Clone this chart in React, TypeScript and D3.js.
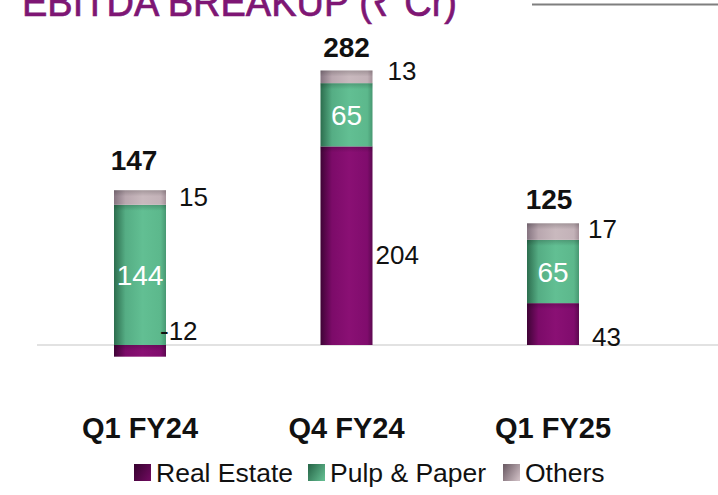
import React from "react";
import * as d3 from "d3";

// ---------- data ----------
const categories = ["Q1 FY24", "Q4 FY24", "Q1 FY25"];
const realEstate = [-12, 204, 43];
const pulpPaper = [144, 65, 65];
const others = [15, 13, 17];
const totals = [147, 282, 125];
const seriesNames = ["Real Estate", "Pulp & Paper", "Others"];
const titleText = "EBITDA BREAKUP (₹ Cr)";

// ---------- style / layout ----------
const W = 718;
const H = 495;
const FONT = "'Liberation Sans', Arial, Helvetica, sans-serif";
const BAR_W = 52;
const gradients: Record<string, [string, string][]> = {
  "Real Estate": [["0%", "#3f0436"], ["22%", "#7c0b69"], ["55%", "#8a1074"], ["90%", "#800c6d"], ["100%", "#5c0850"]],
  "Pulp & Paper": [["0%", "#2c6d4e"], ["22%", "#55ad84"], ["55%", "#62bf93"], ["90%", "#5cb88c"], ["100%", "#479872"]],
  Others: [["0%", "#857480"], ["22%", "#b9a7af"], ["55%", "#c9b9be"], ["90%", "#c3b2b8"], ["100%", "#a49199"]],
};
const legendGrad: Record<string, [string, string]> = {
  "Real Estate": ["#3a0332", "#6e0a5e"],
  "Pulp & Paper": ["#2a6a4c", "#62bb8f"],
  Others: ["#6f5f68", "#cdbcc2"],
};
// manual nudges for outside labels [dx, dy]
const outsideNudge: Record<string, [number, number][]> = {
  "Real Estate": [[-16, -20], [-7, 9.5], [3, 13]],
  Others: [[3, -1], [5, -6], [-1, -3]],
};
const totalNudge: [number, number][] = [[-6, -6], [0, 0], [-4, 0]];
const legendX = [134, 308, 503];

const gid = (s: string) => "g-" + s.replace(/[^a-z]/gi, "");
const lid = (s: string) => "l-" + s.replace(/[^a-z]/gi, "");

export default function App() {
  const rows = categories.map((c, i) => ({
    cat: c,
    "Real Estate": realEstate[i],
    "Pulp & Paper": pulpPaper[i],
    Others: others[i],
  }));
  const stacked = d3
    .stack<any>()
    .keys(seriesNames)
    .offset(d3.stackOffsetDiverging)(rows);

  const y = d3.scaleLinear().domain([0, d3.max(totals) as number]).range([345, 70.5]);
  const x = d3.scalePoint<string>().domain(categories).range([140, 553]);

  return (
    <svg
      width={W}
      height={H}
      viewBox={`0 0 ${W} ${H}`}
      style={{ position: "absolute", left: 0, top: 0, background: "#fff" }}
      fontFamily={FONT}
    >
      <defs>
        {seriesNames.map((s) => (
          <linearGradient key={s} id={gid(s)} x1="0" y1="0" x2="1" y2="0">
            {gradients[s].map(([o, c]) => (
              <stop key={o} offset={o} stopColor={c} />
            ))}
          </linearGradient>
        ))}
        {seriesNames.map((s) => (
          <linearGradient key={s} id={lid(s)} x1="0" y1="0.2" x2="1" y2="0.8">
            <stop offset="0%" stopColor={legendGrad[s][0]} />
            <stop offset="100%" stopColor={legendGrad[s][1]} />
          </linearGradient>
        ))}
        <linearGradient id="topShade" x1="0" y1="0" x2="0" y2="1">
          <stop offset="0%" stopColor="#000" stopOpacity={0.18} />
          <stop offset="100%" stopColor="#000" stopOpacity={0} />
        </linearGradient>
      </defs>

      {/* title */}
      <text
        x={22}
        y={15.5}
        fontSize={40}
        fill="#7e1674"
        stroke="#7e1674"
        strokeWidth={0.7}
        textLength={435}
        lengthAdjust="spacingAndGlyphs"
      >
        {titleText}
      </text>
      <line x1={532} x2={W} y1={4.5} y2={4.5} stroke="#7f7f7f" strokeWidth={2} />

      {/* baseline */}
      <line x1={37} x2={W} y1={y(0)} y2={y(0)} stroke="#d9d9d9" strokeWidth={1.5} />

      {/* bars */}
      {stacked.map((layer) =>
        layer.map((d, i) => {
          const cat = categories[i];
          const y0 = y(d[0]);
          const y1 = y(d[1]);
          const top = Math.min(y0, y1);
          const h = Math.abs(y0 - y1);
          return (
            <g key={layer.key + i}>
              <rect x={(x(cat) as number) - BAR_W / 2} y={top} width={BAR_W} height={h} fill={`url(#${gid(layer.key)})`} />
              <rect x={(x(cat) as number) - BAR_W / 2} y={top} width={BAR_W} height={Math.min(6, h)} fill="url(#topShade)" />
            </g>
          );
        })
      )}

      {/* segment labels */}
      {stacked.map((layer) =>
        layer.map((d, i) => {
          const cat = categories[i];
          const cx = x(cat) as number;
          const mid = (y(d[0]) + y(d[1])) / 2;
          const v = (d.data as any)[layer.key] as number;
          if (layer.key === "Pulp & Paper") {
            return (
              <text key={"lab" + layer.key + i} x={cx} y={mid + 10} textAnchor="middle" fontSize={28} fill="#fff">
                {v}
              </text>
            );
          }
          const [dx, dy] = outsideNudge[layer.key][i];
          return (
            <text key={"lab" + layer.key + i} x={cx + BAR_W / 2 + 10 + dx} y={mid + 9 + dy} fontSize={26} fill="#111">
              {v}
            </text>
          );
        })
      )}

      {/* totals */}
      {totals.map((t, i) => {
        const topVal = stacked[stacked.length - 1][i][1];
        const [dx, dy] = totalNudge[i];
        return (
          <text key={"tot" + i} x={(x(categories[i]) as number) + dx} y={y(topVal) - 14 + dy} textAnchor="middle" fontSize={28} fontWeight="bold" fill="#111">
            {t}
          </text>
        );
      })}

      {/* category labels */}
      {categories.map((c) => (
        <text key={"cat" + c} x={x(c) as number} y={438} textAnchor="middle" fontSize={29} fontWeight="bold" fill="#111">
          {c}
        </text>
      ))}

      {/* legend */}
      {seriesNames.map((s, i) => (
        <g key={"leg" + s} transform={`translate(${legendX[i]},464)`}>
          <rect width={17} height={17} fill={`url(#${lid(s)})`} />
          <text x={22} y={17.5} fontSize={26.5} fill="#111">
            {s}
          </text>
        </g>
      ))}
    </svg>
  );
}
